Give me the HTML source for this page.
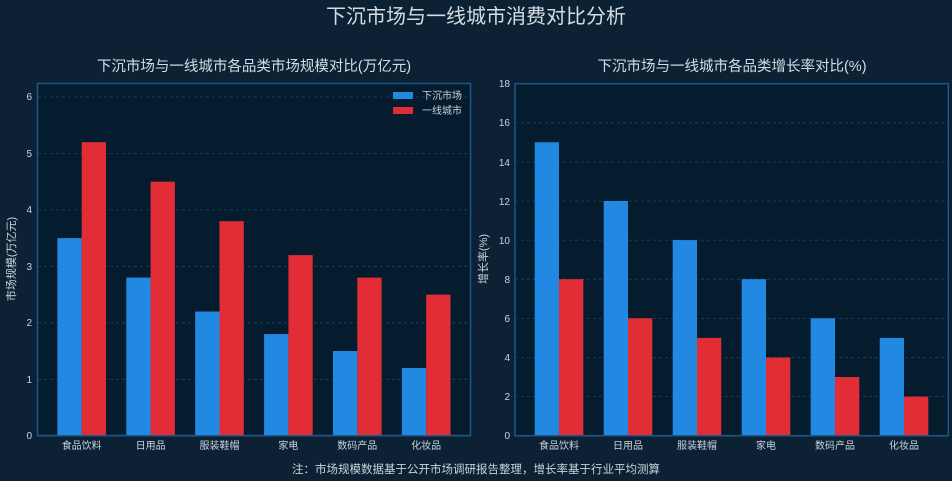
<!DOCTYPE html>
<html><head><meta charset="utf-8"><style>
html,body{margin:0;padding:0;background:#0c2234;}
svg{display:block;font-family:"Liberation Sans","Noto Sans CJK SC",sans-serif;}
</style></head><body>
<svg width="952" height="481" viewBox="0 0 952 481" xmlns="http://www.w3.org/2000/svg">
<rect width="952" height="481" fill="#0c2234"/>
<text x="476" y="23" fill="#d4dde6" font-size="20" text-anchor="middle">下沉市场与一线城市消费对比分析</text>

<!-- LEFT -->
<text x="254" y="71" fill="#d4dde6" font-size="14.5" text-anchor="middle">下沉市场与一线城市各品类市场规模对比(万亿元)</text>
<rect x="37.5" y="83.5" width="433" height="352" fill="#041c2e" stroke="#1d5688" stroke-width="1.5"/>
<g stroke="#1b4468" stroke-dasharray="3,3" stroke-width="0.8">
<line x1="38" x2="470" y1="97" y2="97"/><line x1="38" x2="470" y1="153.5" y2="153.5"/><line x1="38" x2="470" y1="209.9" y2="209.9"/><line x1="38" x2="470" y1="266.4" y2="266.4"/><line x1="38" x2="470" y1="322.8" y2="322.8"/><line x1="38" x2="470" y1="379.3" y2="379.3"/>
</g>
<g fill="#c8d3dd" font-size="10" text-anchor="end">
<text x="32" y="439">0</text><text x="32" y="383">1</text><text x="32" y="326">2</text><text x="32" y="270">3</text><text x="32" y="213">4</text><text x="32" y="157">5</text><text x="32" y="100">6</text>
</g>
<text transform="translate(15,259) rotate(-90)" fill="#c8d3dd" font-size="11" text-anchor="middle">市场规模(万亿元)</text>
<g fill="#2289e3">
<rect x="57.4" y="238.1" width="24.3" height="197.6"/>
<rect x="126.3" y="277.6" width="24.3" height="158.1"/>
<rect x="195.2" y="311.5" width="24.3" height="124.2"/>
<rect x="264.1" y="334.1" width="24.3" height="101.6"/>
<rect x="333" y="351" width="24.3" height="84.7"/>
<rect x="401.9" y="368" width="24.3" height="67.7"/>
</g>
<g fill="#e22d36">
<rect x="81.7" y="142.2" width="24.3" height="293.5"/>
<rect x="150.6" y="181.7" width="24.3" height="254"/>
<rect x="219.5" y="221.2" width="24.3" height="214.5"/>
<rect x="288.4" y="255.1" width="24.3" height="180.6"/>
<rect x="357.3" y="277.6" width="24.3" height="158.1"/>
<rect x="426.2" y="294.6" width="24.3" height="141.1"/>
</g>
<line x1="37.5" x2="470.5" y1="435.7" y2="435.7" stroke="#1d5688" stroke-width="1.5"/>
<g fill="#c8d3dd" font-size="10" text-anchor="middle">
<text x="81.7" y="449">食品饮料</text><text x="150.6" y="449">日用品</text><text x="219.5" y="449">服装鞋帽</text><text x="288.4" y="449">家电</text><text x="357.3" y="449">数码产品</text><text x="426.2" y="449">化妆品</text>
</g>
<rect x="393" y="92" width="20" height="7" fill="#2289e3"/>
<rect x="393" y="107" width="20" height="7" fill="#e22d36"/>
<text x="422" y="99" fill="#c8d3dd" font-size="10">下沉市场</text>
<text x="422" y="114" fill="#c8d3dd" font-size="10">一线城市</text>

<!-- RIGHT -->
<text x="732" y="71" fill="#d4dde6" font-size="14.5" text-anchor="middle">下沉市场与一线城市各品类增长率对比(%)</text>
<rect x="515" y="83.7" width="433.3" height="352" fill="#041c2e" stroke="#1d5688" stroke-width="1.5"/>
<g stroke="#1b4468" stroke-dasharray="3,3" stroke-width="0.8">
<line x1="515" x2="948" y1="122.8" y2="122.8"/><line x1="515" x2="948" y1="162" y2="162"/><line x1="515" x2="948" y1="201.1" y2="201.1"/><line x1="515" x2="948" y1="240.1" y2="240.1"/><line x1="515" x2="948" y1="279.2" y2="279.2"/><line x1="515" x2="948" y1="318.4" y2="318.4"/><line x1="515" x2="948" y1="357.5" y2="357.5"/><line x1="515" x2="948" y1="396.6" y2="396.6"/>
</g>
<g fill="#c8d3dd" font-size="10" text-anchor="end">
<text x="510" y="439">0</text><text x="510" y="400">2</text><text x="510" y="361">4</text><text x="510" y="322">6</text><text x="510" y="283">8</text><text x="510" y="244">10</text><text x="510" y="205">12</text><text x="510" y="166">14</text><text x="510" y="126">16</text><text x="510" y="87">18</text>
</g>
<text transform="translate(487,259) rotate(-90)" fill="#c8d3dd" font-size="11" text-anchor="middle">增长率(%)</text>
<g fill="#2289e3">
<rect x="534.7" y="142.3" width="24.3" height="293.4"/>
<rect x="603.7" y="201" width="24.3" height="234.7"/>
<rect x="672.7" y="240.1" width="24.3" height="195.6"/>
<rect x="741.7" y="279.2" width="24.3" height="156.5"/>
<rect x="810.7" y="318.3" width="24.3" height="117.4"/>
<rect x="879.7" y="337.9" width="24.3" height="97.8"/>
</g>
<g fill="#e22d36">
<rect x="559" y="279.2" width="24.3" height="156.5"/>
<rect x="628" y="318.3" width="24.3" height="117.4"/>
<rect x="697" y="337.9" width="24.3" height="97.8"/>
<rect x="766" y="357.5" width="24.3" height="78.2"/>
<rect x="835" y="377" width="24.3" height="58.7"/>
<rect x="904" y="396.6" width="24.3" height="39.1"/>
</g>
<line x1="515" x2="948.3" y1="435.7" y2="435.7" stroke="#1d5688" stroke-width="1.5"/>
<g fill="#c8d3dd" font-size="10" text-anchor="middle">
<text x="559" y="449">食品饮料</text><text x="628" y="449">日用品</text><text x="697" y="449">服装鞋帽</text><text x="766" y="449">家电</text><text x="835" y="449">数码产品</text><text x="904" y="449">化妆品</text>
</g>

<text x="476" y="473" fill="#c8d3dd" font-size="11.5" text-anchor="middle">注：市场规模数据基于公开市场调研报告整理，增长率基于行业平均测算</text>
</svg>
</body></html>
